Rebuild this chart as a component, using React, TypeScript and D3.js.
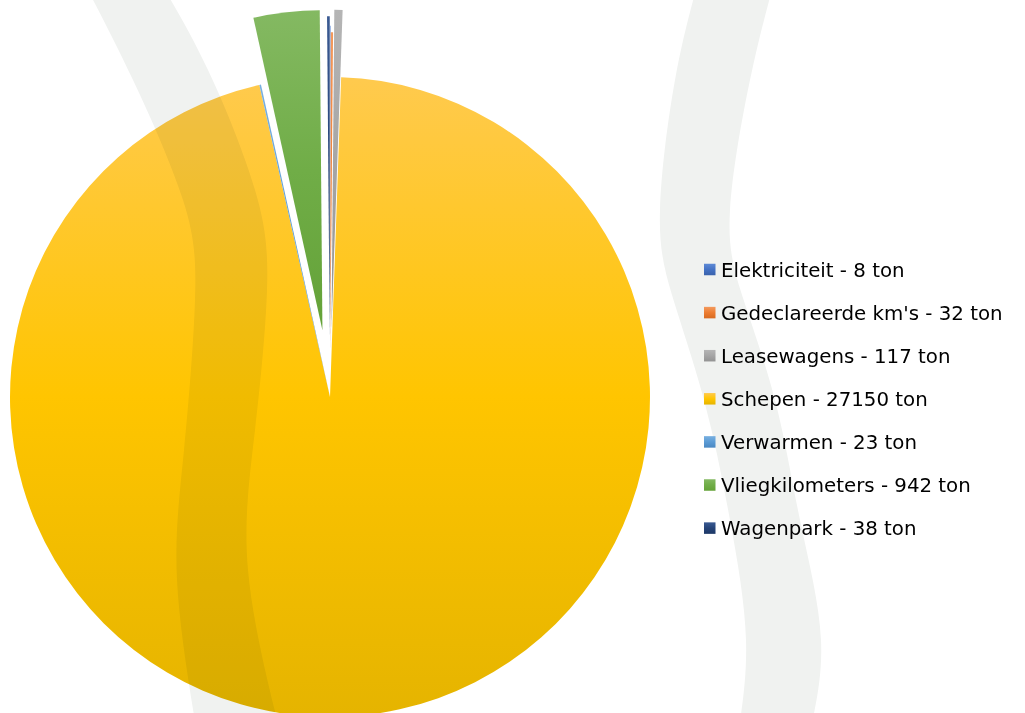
import React from "react";
import * as d3 from "d3";

// ---- data ----
const categories = [
  "Elektriciteit",
  "Gedeclareerde km's",
  "Leasewagens",
  "Schepen",
  "Verwarmen",
  "Vliegkilometers",
  "Wagenpark",
];
const values = [8, 32, 117, 27150, 23, 942, 38];
const unit = "ton";
// explosion per slice, as a fraction of the radius
const explode = [0.16, 0.14, 0.21, 0, 0, 0.21, 0.19];
// [light top, base, dark bottom]
const colors: string[][] = [
  ["#5E8AD6", "#4472C4", "#3A62AC"],
  ["#F39A5E", "#ED7D31", "#D86A20"],
  ["#B5B5B5", "#A5A5A5", "#939393"],
  ["#FFCA4E", "#FFC500", "#E5B400"],
  ["#79B0E0", "#5B9BD5", "#4A88C2"],
  ["#84B962", "#70AD47", "#64A238"],
  ["#3A5A92", "#264478", "#1D3866"],
];

// ---- decorative background ribbons (edge guide points) ----
const leftRibbonA: [number, number][] = [
  [80, -25], [133, 80], [183, 200], [195, 300], [184, 450], [177, 580], [198, 740],
];
const leftRibbonB: [number, number][] = [
  [156, -25], [208, 70], [255, 190], [267, 290], [255, 430], [248, 570], [282, 740],
];
const rightRibbonA: [number, number][] = [
  [700, -25], [675, 80], [660, 210], [672, 295], [704, 400], [730, 520], [746, 640], [737, 740],
];
const rightRibbonB: [number, number][] = [
  [776, -25], [750, 80], [730, 210], [742, 295], [775, 400], [800, 520], [821, 640], [808, 740],
];

const W = 1025;
const H = 713;
const cx = 330;
const cy = 397;
const R = 320;

export default function App() {
  const pie = d3
    .pie<number>()
    .sort(null)
    .value((d) => d)
    .startAngle(0)
    .endAngle(2 * Math.PI);
  const arcs = pie(values);
  const arcGen = d3.arc<d3.PieArcDatum<number>>().innerRadius(0).outerRadius(R);

  const edge = d3.line<[number, number]>().curve(d3.curveNatural);
  const ribbon = (a: [number, number][], b: [number, number][]) => {
    const pa = edge(a) || "";
    const pb = (edge([...b].reverse()) || "").replace(/^M/, "L");
    return pa + pb + "Z";
  };

  const legendX = 704;
  const legendY0 = 269.5;
  const legendStep = 43.1;
  const sq = 11.5;

  return (
    <div style={{ position: "absolute", left: 0, top: 0, width: W, height: H }}>
      <svg width={W} height={H} style={{ display: "block", background: "#fff" }}>
        <defs>
          {colors.map((c, i) => (
            <linearGradient key={i} id={`g${i}`} x1="0" y1="0" x2="0" y2="1">
              <stop offset="0" stopColor={c[0]} />
              <stop offset="0.5" stopColor={c[1]} />
              <stop offset="1" stopColor={c[2]} />
            </linearGradient>
          ))}
        </defs>
        <g>
          {arcs.map((a, i) => {
            const mid = (a.startAngle + a.endAngle) / 2;
            const off = explode[i] * R;
            const dx = Math.sin(mid) * off;
            const dy = -Math.cos(mid) * off;
            return (
              <path
                key={i}
                d={arcGen(a) || ""}
                transform={`translate(${cx + dx},${cy + dy})`}
                fill={`url(#g${i})`}
              />
            );
          })}
        </g>
        <g style={{ mixBlendMode: "multiply" }}>
          <path d={ribbon(leftRibbonA, leftRibbonB)} fill="#F0F2F0" />
          <path d={ribbon(rightRibbonA, rightRibbonB)} fill="#F0F2F0" />
        </g>
        <g fontFamily="'DejaVu Sans', sans-serif" fontSize={19.8} fill="#000">
          {categories.map((c, i) => {
            const y = legendY0 + i * legendStep;
            return (
              <g key={c}>
                <rect
                  x={legendX}
                  y={y - sq / 2}
                  width={sq}
                  height={sq}
                  fill={`url(#g${i})`}
                />
                <text x={legendX + 17} y={y} dy="0.36em">
                  {`${c} - ${values[i]} ${unit}`}
                </text>
              </g>
            );
          })}
        </g>
      </svg>
    </div>
  );
}
